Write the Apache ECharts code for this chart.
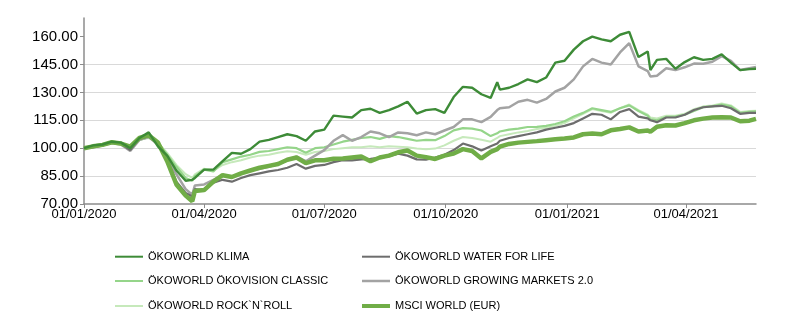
<!DOCTYPE html>
<html>
<head>
<meta charset="utf-8">
<script src="https://cdn.jsdelivr.net/npm/echarts@6/dist/echarts.min.js"></script>
<style>
html,body{margin:0;padding:0;background:#fff;}
#chart{width:800px;height:318px;}
</style>
</head>
<body>
<div id="chart"></div>
<script>
const dates = ['2020-01-01','2020-01-08','2020-01-15','2020-01-22','2020-01-29','2020-02-05','2020-02-12','2020-02-19','2020-02-26','2020-03-04','2020-03-11','2020-03-18','2020-03-23',
'2020-03-25','2020-04-01','2020-04-08','2020-04-15','2020-04-22','2020-04-29','2020-05-06','2020-05-13','2020-05-20','2020-05-27','2020-06-03','2020-06-10','2020-06-17','2020-06-24','2020-07-01',
'2020-07-08','2020-07-15','2020-07-22','2020-07-29','2020-08-05','2020-08-12','2020-08-19','2020-08-26',
'2020-09-02','2020-09-09','2020-09-16','2020-09-23','2020-09-30','2020-10-07','2020-10-14','2020-10-21','2020-10-28','2020-11-04','2020-11-09',
'2020-11-11','2020-11-18','2020-11-25','2020-12-02','2020-12-09','2020-12-16','2020-12-23','2020-12-30',
'2021-01-06','2021-01-13','2021-01-20','2021-01-27','2021-02-03','2021-02-10','2021-02-17','2021-02-24','2021-03-03','2021-03-05','2021-03-10',
'2021-03-17','2021-03-24','2021-03-31','2021-04-07','2021-04-14','2021-04-21','2021-04-28','2021-05-05','2021-05-12','2021-05-19','2021-05-24'];

const klima = [100,101.5,102,103.5,103,100,105.5,108.5,101,96,88,82.5,83,
84,88.5,88.5,93,97.5,97,99.5,103.5,104.5,106,107.5,106.5,104,109,110,
117.5,117,116.5,120.5,121.2,119,120.5,122.5,
125,118.6,120.5,121,119,127.5,133,132.5,129,127,135.5,
131.5,132.5,134.5,137,135.5,138,146,147,
153,157.5,160,158.5,157.5,161,162.5,149,152,142,147.5,
148,142.7,146.3,148.9,147.5,148,150.5,146,142,142.5,142.7];

const water = [100,100.5,101.5,103,102.3,99,105,106.5,102.5,93.5,82,76,74,
78,77.5,81.5,83,82,84,85.5,86.5,87.5,88.3,89.5,91.5,89,90.5,91,
92.5,93.5,93.5,94,94.3,94.8,95.7,97,
96,94,93.8,95,96.5,99,102.5,101,98.7,101,102.5,
104,105.5,106.5,107.5,108.5,110,111,112,
113.5,116,118.5,118,115.5,119.5,121,117,116,115,114,
116.5,116.5,118,120.5,122,122.5,122.8,121.5,118.5,119,119];

const oekovision = [100,101,102,103.3,102.8,100.5,104.5,106,103,96.5,90,84,82.5,
85,88.5,87.5,92.5,94,95.5,96.5,98,98.5,99.5,100.5,100,97.5,100,100.5,
102,103.5,104.5,105.5,106,105,106.5,106,
105,104,104.5,104.3,106.5,109.6,110.8,110.5,109.5,106.5,108,
109,110,110.5,111.4,111.5,112,113,114.5,
117,119,121.5,120.5,119.5,121.5,123,120,117.5,115.5,115,
116.8,117,118,120,122,122.5,123.5,122.5,119,119.5,119.8];

const growing = [100,100.5,101.5,102.8,102,98.5,104.5,106,102,94,86,78,75,
80,80.5,83,85.5,84.5,86.5,88,89,90,91.5,93.5,95.5,93,96,99,
104,107,104,106,109,108,106,108.5,
108,107,108.5,107.5,109.5,111.4,115.5,115.5,114,116.8,120.5,
121.5,122,125,126,124.5,126.5,130.5,132.5,
137,144,148,146,145,151.5,156.5,144,141.5,138.5,139,
143,142,143.5,145.5,145.4,146.5,149.5,147,142,143,143.6];

const rock = [100,101,102,103.5,103,101,104.5,105.5,103,97.5,91,86,84,
86,89,88,91,92.5,93.5,95,96,96.5,97.5,98.3,98,96.5,98,98.5,
99.5,100,100.5,100.5,101,100.5,101,100.8,
100.5,99.8,99.5,99.8,101.5,104,106,105.5,104.5,103.5,105.5,
106.5,107.5,108.5,109.3,110.3,111,112,113.5,
116,118.5,121,120,119,121.5,123.5,120.5,118,116.5,116,
117.5,117.5,118.5,121,122.5,123,124,123,119.5,120,120.2];

const msci = [100,101,101.8,103.2,102.5,100.8,105.5,107,103,93,80.5,74.5,71.5,
77,77.5,82,85.5,84.5,86.5,88,89.5,90.5,91.5,93.8,95,92,93.5,93.5,
94.3,94.5,95,95.5,93,95,96,97.8,
98.8,96,95.2,94.2,96,97.1,99.5,98.5,94.5,98,99.5,
100.8,102.3,103,103.4,103.8,104.3,104.8,105.2,
105.8,107.5,107.9,107.5,109.6,110.3,111.2,109,109.5,108.8,111.5,
112.3,112.2,113.5,115,115.9,116.5,116.6,116.5,114.5,114.8,115.8];

const xTickDates = ['2020-01-01','2020-04-01','2020-07-01','2020-10-01','2021-01-01','2021-04-01'];
const yTicks = [70,85,100,115,130,145,160];
const xStart = '2020-01-01';
const xEnd = '2021-05-24';

const names = ['ÖKOWORLD KLIMA','ÖKOWORLD WATER FOR LIFE','ÖKOWORLD ÖKOVISION CLASSIC','ÖKOWORLD GROWING MARKETS 2.0','ÖKOWORLD ROCK`N`ROLL','MSCI WORLD (EUR)'];

function ts(s){ const p = s.split('-').map(Number); return Date.UTC(p[0], p[1]-1, p[2]); }
function fmt(v){ const d = new Date(v); const p = n => (n<10?'0':'')+n; return p(d.getUTCDate())+'/'+p(d.getUTCMonth()+1)+'/'+d.getUTCFullYear(); }
function pairs(arr){ return arr.map((v,i)=>[ts(dates[i]), v]); }

const font = "'Liberation Sans',Arial,sans-serif";
const chart = echarts.init(document.getElementById('chart'), null, {renderer:'canvas'});

function line(name, data, color, width, z){
  return {name:name, type:'line', data:pairs(data), symbol:'none', showSymbol:false, z:z,
    lineStyle:{color:color, width:width}, itemStyle:{color:color}, emphasis:{disabled:true}};
}
function leg(name, left, cy, h){
  return {data:[name], left:left, top:cy-7, orient:'horizontal', icon:'rect', itemWidth:28, itemHeight:h, padding:0,
    textStyle:{fontFamily:font, fontSize:11, color:'#000', lineHeight:14}, selectedMode:false};
}

chart.setOption({
  animation:false,
  backgroundColor:'#fff',
  grid:{left:84, right:44, top:18, bottom:114, containLabel:false},
  xAxis:{type:'value', min:ts(xStart), max:ts(xEnd),
    axisLine:{show:true, lineStyle:{color:'#8c8c8c', width:1.5}},
    axisTick:{show:true, length:4, lineStyle:{color:'#8c8c8c'}, customValues:xTickDates.map(ts)},
    axisLabel:{customValues:xTickDates.map(ts), formatter:fmt, color:'#000', fontSize:13, fontFamily:font, margin:4},
    splitLine:{show:false}},
  yAxis:{type:'value', min:70, max:170, interval:15,
    axisLine:{show:true, lineStyle:{color:'#8c8c8c', width:1.5}},
    axisTick:{show:true, length:4, lineStyle:{color:'#8c8c8c'}, customValues:yTicks},
    axisLabel:{customValues:yTicks, formatter:v=>v.toFixed(2), color:'#000', fontSize:15, fontFamily:font, margin:6},
    splitLine:{show:true, showMaxLine:false, showMinLine:false, lineStyle:{color:'#d9d9d9', width:1}}},
  legend:[
    leg(names[0], 115, 256.7, 2),
    leg(names[2], 115, 281, 2),
    leg(names[4], 115, 306, 2),
    leg(names[1], 362, 256.7, 2),
    leg(names[3], 362, 281, 2.5),
    leg(names[5], 362, 306, 4)
  ],
  series:[
    line(names[4], rock, '#c6e9bb', 2, 1),
    line(names[2], oekovision, '#95d58a', 2.2, 2),
    line(names[3], growing, '#a3a3a3', 2.5, 3),
    line(names[1], water, '#6d6d6d', 2.2, 4),
    line(names[5], msci, '#70ad47', 4.5, 5),
    line(names[0], klima, '#3d8b37', 2.4, 6)
  ]
});
</script>
</body>
</html>
